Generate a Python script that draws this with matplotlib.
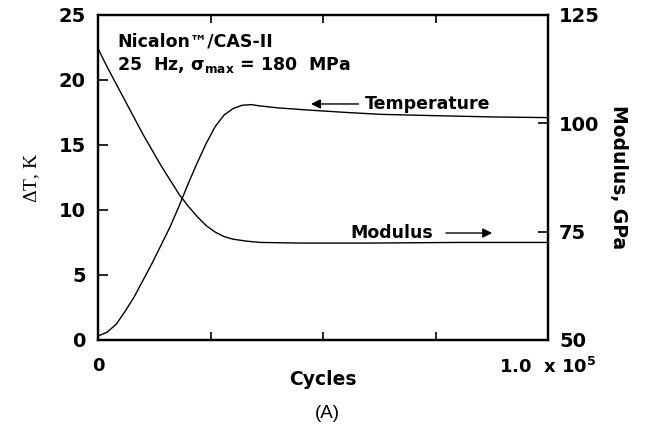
import matplotlib
matplotlib.use("Agg")
import matplotlib.pyplot as plt

# Données (cycles en milliers)
cycles_temp = [0, 2, 4, 6, 8, 10, 12, 14, 16, 18, 20, 22, 24, 26, 28, 30, 32, 34,
               36, 40, 46, 55, 63, 75, 88, 100]
delta_t = [0.3, 0.6, 1.2, 2.2, 3.3, 4.6, 5.9, 7.3, 8.7, 10.3, 12.0, 13.6, 15.1,
           16.4, 17.3, 17.8, 18.05, 18.1, 18.0, 17.85, 17.7, 17.5, 17.35, 17.25,
           17.15, 17.1]

cycles_mod = [0, 2, 4, 6, 8, 10, 12, 14, 16, 18, 20, 22, 24, 26, 28, 30, 33, 36,
              45, 60, 80, 100]
modulus = [117.2, 113.0, 109.1, 105.2, 101.3, 97.4, 93.8, 90.2, 86.9, 83.6, 80.9,
           78.5, 76.4, 74.9, 73.85, 73.25, 72.8, 72.5, 72.35, 72.35, 72.5, 72.5]

x_ticks = [0, 25000, 50000, 75000, 100000]
x_labels = ["0", "", "", "", r"1.0  x 10$^{5}$"]
left_ticks = [0, 5, 10, 15, 20, 25]
right_ticks = [50, 75, 100, 125]

plt.rcParams["font.family"] = ["DejaVu Sans"]
plt.rcParams["font.weight"] = "bold"
plt.rcParams["mathtext.fontset"] = "custom"
plt.rcParams["mathtext.rm"] = "DejaVu Sans:bold"
plt.rcParams["mathtext.it"] = "DejaVu Sans:bold"
plt.rcParams["mathtext.bf"] = "DejaVu Sans:bold"

fig = plt.figure(figsize=(6.54, 4.26), dpi=100)
ax = fig.add_axes([0.150, 0.202, 0.688, 0.763])
ax2 = ax.twinx()

ax.plot([c * 1000 for c in cycles_temp], delta_t, color="black", lw=1.0)
ax2.plot([c * 1000 for c in cycles_mod], modulus, color="black", lw=1.0)

ax.set_xlim(0, 100000)
ax.set_ylim(0, 25)
ax2.set_ylim(50, 125)

ax.set_xticks(x_ticks)
ax.set_xticklabels(x_labels, fontsize=13, fontweight="bold")
ax.set_yticks(left_ticks)
ax.set_yticklabels([str(v) for v in left_ticks], fontsize=14, fontweight="bold")
ax2.set_yticks(right_ticks)
ax2.set_yticklabels([str(v) for v in right_ticks], fontsize=14, fontweight="bold")

ax.tick_params(axis="x", direction="in", top=True, length=6, width=1.2, pad=12)
ax.tick_params(axis="y", direction="in", length=7, width=1.2, pad=9)
ax2.tick_params(axis="y", direction="in", length=7, width=1.2, pad=8)
for a in (ax, ax2):
    for s in a.spines.values():
        s.set_linewidth(1.6)

ax.set_ylabel(r"$\mathregular{\Delta}$T, K", family="Liberation Serif",
              fontweight="normal", fontsize=14, labelpad=12)
ax2.set_ylabel("Modulus, GPa", fontsize=13.5, fontweight="bold", rotation=-90,
               labelpad=20)
ax.set_xlabel("Cycles", fontsize=13.5, fontweight="bold", labelpad=-5)

ax.text(0.042, 0.917, "Nicalon\u2122/CAS-II", transform=ax.transAxes,
        fontsize=12.5, va="center", ha="left")
ax.text(0.042, 0.845, r"25  Hz, $\mathregular{\sigma_{max}}$ = 180  MPa",
        transform=ax.transAxes, fontsize=12.5, va="center", ha="left")

ax.text(0.593, 0.726, "Temperature", transform=ax.transAxes, fontsize=12.5,
        va="center", ha="left")
ax.annotate("", xy=(0.467, 0.726), xytext=(0.585, 0.726), xycoords="axes fraction",
            arrowprops=dict(arrowstyle="-|>", color="black", lw=1.0,
                            mutation_scale=14))
ax.text(0.56, 0.329, "Modulus", transform=ax.transAxes, fontsize=12.5,
        va="center", ha="left")
ax.annotate("", xy=(0.882, 0.329), xytext=(0.767, 0.329), xycoords="axes fraction",
            arrowprops=dict(arrowstyle="-|>", color="black", lw=1.0,
                            mutation_scale=14))

fig.text(0.50, 0.030, "(A)", family="Liberation Sans", fontsize=13.5,
         fontweight="normal", ha="center", va="center")

fig.savefig("out.png", dpi=100)
